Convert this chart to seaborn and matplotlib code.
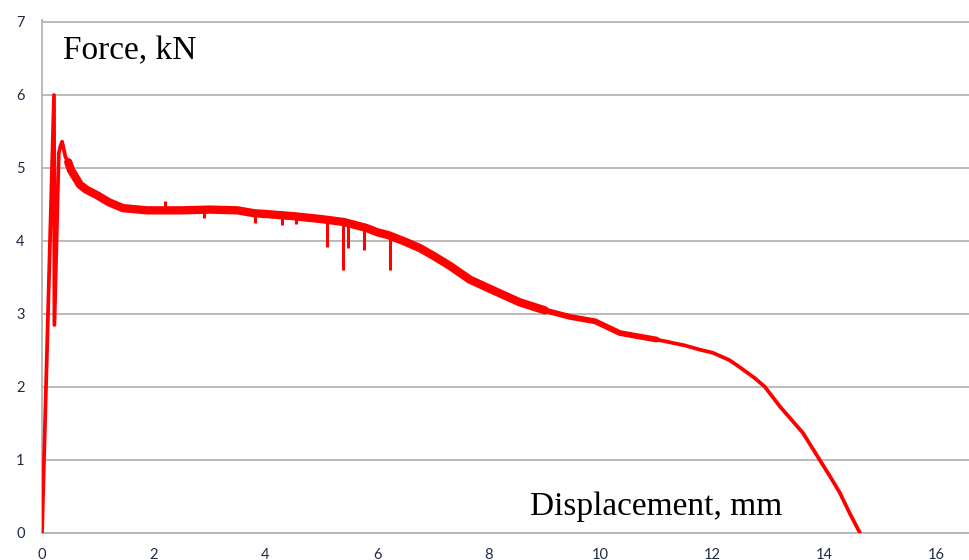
import matplotlib
matplotlib.use("Agg")
import matplotlib.pyplot as plt
import seaborn as sns
import pandas as pd

# ---- data ----
disp_mm = [0.0, 0.215, 0.222, 0.30, 0.33, 0.36, 0.42, 0.47, 0.52, 0.68, 0.80, 0.98,
           1.20, 1.45, 1.88, 2.00, 2.50, 3.00, 3.50, 3.80, 4.00, 4.50, 5.00,
           5.40, 5.80, 6.00, 6.20, 6.50, 6.77, 7.00, 7.30, 7.66, 8.00, 8.55, 9.00, 9.45,
           9.90, 10.34, 10.70, 11.00, 11.50, 11.78, 12.00, 12.30, 12.49, 12.76, 12.94,
           13.21, 13.62, 13.92, 14.10, 14.28, 14.45, 14.64]
force_kn = [0.0, 6.00, 2.85, 5.20, 5.30, 5.36, 5.15, 5.08, 4.97, 4.77, 4.70, 4.63,
            4.53, 4.45, 4.42, 4.42, 4.42, 4.43, 4.42, 4.38, 4.37, 4.34, 4.30,
            4.26, 4.18, 4.12, 4.08, 3.99, 3.90, 3.80, 3.66, 3.47, 3.35, 3.16, 3.05, 2.96,
            2.90, 2.74, 2.69, 2.65, 2.57, 2.51, 2.47, 2.37, 2.27, 2.12, 2.00,
            1.73, 1.37, 1.00, 0.78, 0.55, 0.28, 0.00]

# spikes / glitches on the noisy plateau
spike_x = [2.20, 2.90, 3.81, 4.30, 4.55, 5.10, 5.39, 5.48, 5.76, 6.23]
spike_base = [4.42, 4.43, 4.38, 4.35, 4.33, 4.29, 4.26, 4.25, 4.18, 4.07]
spike_end = [4.55, 4.32, 4.25, 4.22, 4.23, 3.92, 3.60, 3.90, 3.88, 3.60]

x_ticks = [0, 2, 4, 6, 8, 10, 12, 14, 16]
y_ticks = [0, 1, 2, 3, 4, 5, 6, 7]

df = pd.DataFrame({"disp": disp_mm, "force": force_kn})

sns.set_style("white")
plt.rcParams["font.family"] = ["Lato", "DejaVu Sans"]

fig = plt.figure(figsize=(9.69, 5.6), dpi=100)
ax = fig.add_axes([42 / 969, 27 / 560, 927.5 / 969, 513.2 / 560])

red = "#ff0000"
sns.lineplot(data=df, x="disp", y="force", sort=False, estimator=None,
             color=red, lw=2.7, ax=ax, zorder=3)
# noisy band thickness
band = df[(df.disp >= 0.45) & (df.disp <= 9.0)]
sns.lineplot(data=band, x="disp", y="force", sort=False, estimator=None,
             color=red, lw=6.0, ax=ax, zorder=3, solid_capstyle="round",
             solid_joinstyle="round")
band2 = df[(df.disp >= 9.0) & (df.disp <= 11.0)]
sns.lineplot(data=band2, x="disp", y="force", sort=False, estimator=None,
             color=red, lw=4.2, ax=ax, zorder=3, solid_capstyle="round",
             solid_joinstyle="round")
ax.vlines(spike_x, spike_base, spike_end, color=red, lw=2.2, zorder=3)

ax.set_xlim(0, 16.6)
ax.set_ylim(0, 7.03)
ax.set_xticks(x_ticks)
ax.set_yticks(y_ticks)
ax.set_xlabel("")
ax.set_ylabel("")

grid_c = "#b4b4b4"
ax.grid(axis="y", color=grid_c, lw=1.3)
ax.grid(axis="x", visible=False)
for s in ["top", "right"]:
    ax.spines[s].set_visible(False)
for s in ["left", "bottom"]:
    ax.spines[s].set_color(grid_c)
    ax.spines[s].set_linewidth(1.3)
ax.tick_params(axis="both", which="major", length=4.5, width=1.1, color=grid_c,
               labelsize=10.5, labelcolor="#1f2a44")
ax.tick_params(axis="y", pad=8)
ax.tick_params(axis="x", pad=6)
ax.set_axisbelow(True)

ax.text(0.376, 6.49, "Force, kN", family=["Liberation Serif", "DejaVu Serif"],
        fontsize=24, va="baseline", ha="left", color="black")
ax.text(8.73, 0.25, "Displacement, mm", family=["Liberation Serif", "DejaVu Serif"],
        fontsize=24, va="baseline", ha="left", color="black")

fig.savefig("out.png", dpi=100)
